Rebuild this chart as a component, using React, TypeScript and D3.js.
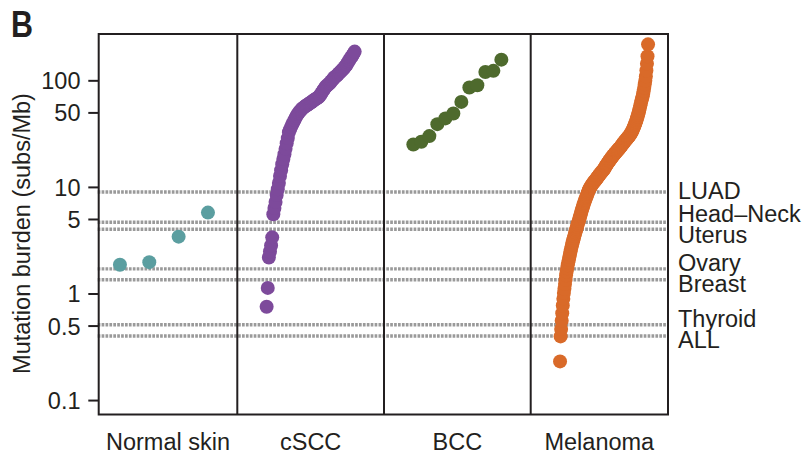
import React from 'react';
import * as d3 from 'd3';

const categories = ['Normal skin', 'cSCC', 'BCC', 'Melanoma'];
const seriesColors = ['#5b9ea0', '#7d4a9b', '#4e6a2d', '#d96a29'];

const normalSkin = [1.88, 1.99, 3.45, 5.8];

const cscc = [
  0.76, 1.14, 2.2, 2.5, 2.85, 3.4, 5.6, 6.4, 7.3, 8.5,
  9.6, 11, 12.8, 14.5, 16.5, 18.5, 20.5, 23, 26, 29,
  33, 35, 37, 39, 41, 43, 45, 47, 49, 50.5,
  52, 53.5, 55, 56, 57, 58, 59, 60, 61, 62,
  63, 64, 65.5, 66.5, 67.5, 68.5, 69.5, 71, 73, 76,
  79, 82, 85, 88, 90, 92, 94, 96, 99, 102,
  105, 108, 110, 112, 115, 118, 121, 124, 127, 130,
  134, 138, 143, 149, 155, 161, 167, 173, 180, 188,
];

const bcc = [25.3, 26.8, 30.3, 39.2, 44.4, 49.4, 63.4, 86.5, 91, 121, 124, 158];

const melanoma = [
  0.233, 0.4, 0.47, 0.56, 0.66, 0.78, 0.9, 1.02, 1.12, 1.24,
  1.36, 1.5, 1.62, 1.74, 1.86, 1.98, 2.1, 2.22, 2.35, 2.5,
  2.64, 2.78, 2.92, 3.06, 3.2, 3.35, 3.5, 3.65, 3.8, 3.96,
  4.12, 4.3, 4.48, 4.66, 4.85, 5.05, 5.25, 5.45, 5.7, 5.95,
  6.2, 6.45, 6.7, 6.95, 7.2, 7.45, 7.7, 7.95, 8.2, 8.45,
  8.7, 9.0, 9.3, 9.55, 9.8, 10.0, 10.2, 10.4, 10.6, 10.8,
  11.0, 11.15, 11.3, 11.45, 11.6, 11.8, 12.0, 12.2, 12.4, 12.6,
  12.8, 13.0, 13.2, 13.4, 13.6, 13.8, 14.0, 14.2, 14.4, 14.6,
  14.9, 15.2, 15.5, 15.8, 16.1, 16.4, 16.7, 17.0, 17.3, 17.6,
  17.9, 18.2, 18.5, 18.8, 19.1, 19.4, 19.7, 20.0, 20.3, 20.6,
  20.9, 21.2, 21.5, 21.8, 22.1, 22.4, 22.7, 23.0, 23.3, 23.6,
  24.0, 24.4, 24.8, 25.2, 25.6, 26.0, 26.4, 26.8, 27.2, 27.6,
  28.0, 28.4, 28.8, 29.2, 29.6, 30.0, 30.5, 31.0, 31.6, 32.3,
  33.0, 33.8, 34.6, 35.5, 36.5, 37.6, 38.8, 40.0, 41.4, 42.9,
  44.5, 46.3, 48.3, 50.5, 53, 55.8, 58.8, 62, 65, 68,
  71, 75, 80, 86, 93, 100, 110, 125, 145, 170,
  220,
];

const seriesValues = [normalSkin, cscc, bcc, melanoma];

const refLabels = ['LUAD', 'Head\u2013Neck', 'Uterus', 'Ovary', 'Breast', 'Thyroid', 'ALL'];
const refValues = [9.06, 4.71, 4.05, 1.72, 1.36, 0.515, 0.403];

const yTicks = [0.1, 0.5, 1, 5, 10, 50, 100];
const yDomain = [0.074, 275];

const W = 809;
const H = 454;
const FONT = '"Liberation Sans", Arial, Helvetica, sans-serif';

export default function App() {
  const frameLeft = 98.7;
  const frameRight = 668;
  const frameTop = 34;
  const frameBottom = 414.5;

  const y = d3.scaleLog().domain(yDomain).range([frameBottom, frameTop]);
  const band = d3.scaleBand<string>().domain(categories).range([90.6, 677.4]).padding(0);
  const bw = band.bandwidth();

  const dividers = categories.slice(1).map((c) => band(c) as number);
  const panelEdges = [frameLeft, ...dividers, frameRight];

  // simple label repel
  const ly = refValues.map((v) => y(v));
  const order = d3.range(ly.length).sort((a, b) => ly[a] - ly[b]);
  const minGap = 21;
  const groups: number[][] = [];
  order.forEach((idx) => {
    const g = groups[groups.length - 1];
    if (g && ly[idx] - ly[g[g.length - 1]] < minGap) g.push(idx);
    else groups.push([idx]);
  });
  const labelY: number[] = new Array(ly.length).fill(0);
  groups.forEach((g) => {
    const mean = d3.mean(g, (i) => ly[i]) as number;
    g.forEach((i, k) => {
      labelY[i] = mean + (k - (g.length - 1) / 2) * minGap - 1.5;
    });
  });

  const fs = 23.5;

  return (
    <svg width={W} height={H} style={{ position: 'absolute', left: 0, top: 0, background: '#fff' }} fontFamily={FONT}>
      <rect x={0} y={0} width={W} height={H} fill="#fff" />
      <text x={11} y={37} fontSize={37} fontWeight="bold" fill="#231f20" textLength={22} lengthAdjust="spacingAndGlyphs">B</text>

      {/* reference dotted lines */}
      {refValues.map((v, i) => (
        <line
          key={'ref' + i}
          x1={frameLeft - 1}
          x2={frameRight - 2}
          y1={y(v)}
          y2={y(v)}
          stroke="#9a9a9a"
          strokeWidth={3.4}
          strokeDasharray="2.7 1.2"
        />
      ))}

      {/* points */}
      {seriesValues.map((vals, si) => {
        const b0 = band(categories[si]) as number;
        const xs = d3.scaleLinear().domain([0, 1]).range([b0 + 0.2 * bw, b0 + 0.8 * bw]);
        const n = vals.length;
        return (
          <g key={'s' + si} fill={seriesColors[si]}>
            {vals.map((v, i) => (
              <circle key={i} cx={xs(n > 1 ? i / (n - 1) : 0.5)} cy={y(v)} r={7} />
            ))}
          </g>
        );
      })}

      {/* frame */}
      <rect x={frameLeft} y={frameTop} width={frameRight - frameLeft} height={frameBottom - frameTop} fill="none" stroke="#231f20" strokeWidth={2} />
      {dividers.map((d, i) => (
        <line key={'d' + i} x1={d} x2={d} y1={frameTop} y2={frameBottom} stroke="#231f20" strokeWidth={2} />
      ))}

      {/* y axis */}
      {yTicks.map((t) => (
        <g key={'t' + t}>
          <line x1={88.3} x2={frameLeft} y1={y(t)} y2={y(t)} stroke="#231f20" strokeWidth={2} />
          <text x={80.5} y={y(t)} dy="0.36em" textAnchor="end" fontSize={fs} fill="#231f20">{String(t)}</text>
        </g>
      ))}
      <text transform={`translate(30,233.5) rotate(-90)`} textAnchor="middle" fontSize={fs} fill="#231f20">Mutation burden (subs/Mb)</text>

      {/* category labels */}
      {categories.map((c, i) => (
        <text key={'c' + i} x={(panelEdges[i] + panelEdges[i + 1]) / 2} y={450} textAnchor="middle" fontSize={fs} fill="#231f20">{c}</text>
      ))}

      {/* reference labels */}
      {refLabels.map((l, i) => (
        <text key={'l' + i} x={678} y={labelY[i]} dy="0.36em" fontSize={fs} fill="#231f20">{l}</text>
      ))}
    </svg>
  );
}
